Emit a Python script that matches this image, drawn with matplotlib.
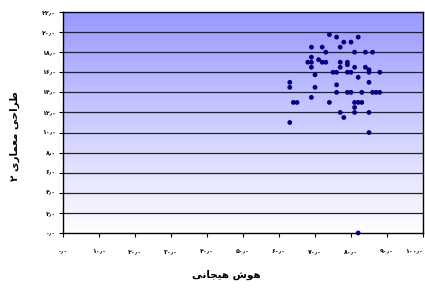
import numpy as np
import matplotlib
matplotlib.use("Agg")
import matplotlib.pyplot as plt
from matplotlib.colors import LinearSegmentedColormap

# data
x_vals = [74, 76, 82, 78, 80, 69, 72, 77, 73, 81, 84, 86, 69, 68, 69, 71,
          72, 73, 77, 79, 79, 77, 69, 81, 84, 85, 85, 88, 75, 76, 79, 80,
          70, 82, 63, 85, 76, 63, 70, 76, 79, 80, 83, 86, 87, 88, 69, 64,
          65, 74, 81, 82, 83, 81, 77, 81, 85, 78, 63, 85, 82]
y_vals = [19.75, 19.5, 19.5, 19.0, 19.0, 18.5, 18.5, 18.5, 18.0, 18.0, 18.0, 18.0,
          17.5, 17.0, 17.0, 17.25, 17.0, 17.0, 17.0, 17.0, 16.75, 16.5, 16.5, 16.5,
          16.5, 16.25, 16.0, 16.0, 16.0, 16.0, 16.0, 16.0, 15.75, 15.5, 15.0, 15.0,
          14.75, 14.5, 14.5, 14.0, 14.0, 14.0, 14.0, 14.0, 14.0, 14.0, 13.5, 13.0,
          13.0, 13.0, 13.0, 13.0, 13.0, 12.5, 12.0, 12.0, 12.0, 11.5, 11.0, 10.0, 0.0]
x_ticks = list(range(0, 101, 10))
y_ticks = list(range(0, 23, 2))
x_title = "هوش هیجانی"
y_title = "طراحی معماری ۲"

# minimal arabic shaping (matplotlib has no text shaping)
FORMS = {
    'ه': ('\uFEE9', '\uFEEA', '\uFEEB', '\uFEEC'),
    'و': ('\uFEED', '\uFEEE', '\uFEED', '\uFEEE'),
    'ش': ('\uFEB5', '\uFEB6', '\uFEB7', '\uFEB8'),
    'ی': ('\uFBFC', '\uFBFD', '\uFBFE', '\uFBFF'),
    'ج': ('\uFE9D', '\uFE9E', '\uFE9F', '\uFEA0'),
    'ا': ('\uFE8D', '\uFE8E', '\uFE8D', '\uFE8E'),
    'ن': ('\uFEE5', '\uFEE6', '\uFEE7', '\uFEE8'),
    'ط': ('\uFEC1', '\uFEC2', '\uFEC3', '\uFEC4'),
    'ر': ('\uFEAD', '\uFEAE', '\uFEAD', '\uFEAE'),
    'ح': ('\uFEA1', '\uFEA2', '\uFEA3', '\uFEA4'),
    'م': ('\uFEE1', '\uFEE2', '\uFEE3', '\uFEE4'),
    'ع': ('\uFEC9', '\uFECA', '\uFECB', '\uFECC'),
}
RIGHT_ONLY = set('اوردزژذآ')


def shape(text):
    out = []
    for i, ch in enumerate(text):
        if ch not in FORMS:
            out.append(ch)
            continue
        prev = text[i - 1] if i > 0 else ''
        nxt = text[i + 1] if i + 1 < len(text) else ''
        jp = prev in FORMS and prev not in RIGHT_ONLY
        jn = nxt in FORMS and ch not in RIGHT_ONLY
        if jp and jn:
            out.append(FORMS[ch][3])
        elif jp:
            out.append(FORMS[ch][1])
        elif jn:
            out.append(FORMS[ch][2])
        else:
            out.append(FORMS[ch][0])
    return ''.join(reversed(out))


def fa_num(v):
    s = "%.1f" % v
    digits = str.maketrans('0123456789.', '۰۱۲۳۴۵۶۷۸۹٫')
    return s.translate(digits)


plt.rcParams['font.family'] = ['DejaVu Sans']
fig = plt.figure(figsize=(4.25, 2.88), dpi=100)
ax = fig.add_axes([63 / 425, 1 - 233 / 288, 360 / 425, 221 / 288])

# gradient background
cmap = LinearSegmentedColormap.from_list('bg', ['#ffffff', '#9999ff'])
grad = np.linspace(0, 1, 256).reshape(-1, 1)
ax.imshow(grad, cmap=cmap, aspect='auto', origin='lower',
          extent=[0, 100, 0, 22], zorder=0)

for yv in y_ticks[1:-1]:
    ax.axhline(yv, color='#222222', lw=0.9, zorder=1)

ax.scatter(x_vals, y_vals, s=12, c='#000080', edgecolors='none', zorder=3, clip_on=False)

ax.set_xlim(0, 100)
ax.set_ylim(0, 22)
ax.set_xticks(x_ticks)
ax.set_yticks(y_ticks)
ax.set_xticklabels([fa_num(v) for v in x_ticks], fontsize=4.5, fontweight='bold')
ax.set_yticklabels([fa_num(v) for v in y_ticks], fontsize=4.5, fontweight='bold')
ax.tick_params(axis='x', length=3, width=0.8, pad=9)
ax.tick_params(axis='y', length=3, width=0.8, pad=2)
for sp in ax.spines.values():
    sp.set_linewidth(1)
    sp.set_color('black')

# keep the last x label inside the figure
ax.get_xticklabels()[-1].set_horizontalalignment('right')

fig.text(226 / 425, 1 - 275 / 288, shape(x_title), fontsize=7.5, fontweight='bold',
         ha='center', va='center')
fig.text(15 / 425, 1 - 136 / 288, shape(y_title), fontsize=7.5, fontweight='bold',
         ha='center', va='center', rotation=90)

fig.savefig('out.png', dpi=100)
